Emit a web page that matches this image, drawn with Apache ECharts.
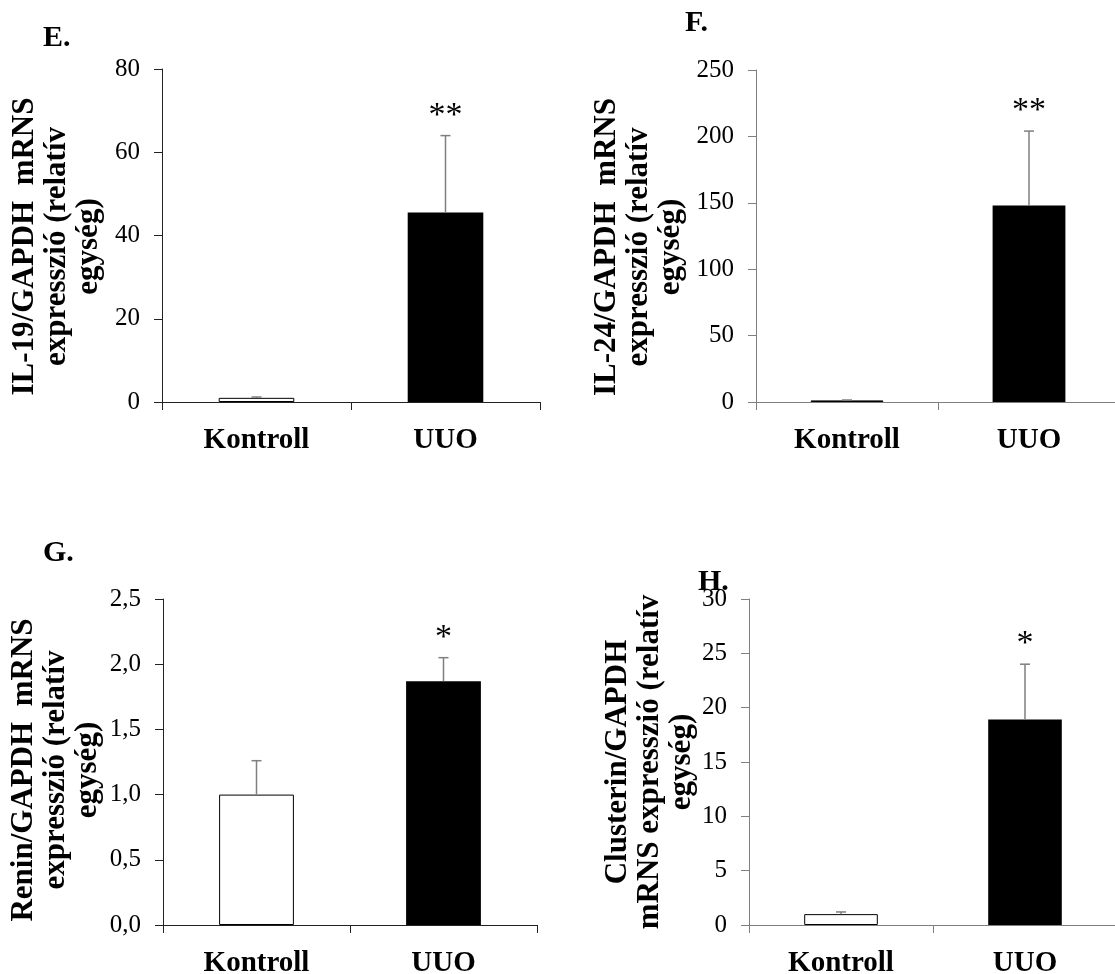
<!DOCTYPE html>
<html>
<head>
<meta charset="utf-8">
<script src="https://cdn.jsdelivr.net/npm/echarts@6/dist/echarts.min.js"></script>
<style>html,body{margin:0;padding:0;background:#fff}#c{width:1115px;height:974px}</style>
</head>
<body>
<div id="c"></div>
<script>
const categories = ['Kontroll', 'UUO'];
// E: IL-19
const eMeans = [1.0, 45.5];
const eErrors = [0.2, 18.5];
const eStars = ['', '**'];
// F: IL-24
const fMeans = [1.2, 148];
const fErrors = [0.3, 56];
const fStars = ['', '**'];
// G: Renin
const gMeans = [1.0, 1.87];
const gErrors = [0.26, 0.18];
const gStars = ['', '*'];
// H: Clusterin
const hMeans = [1.0, 18.9];
const hErrors = [0.2, 5.1];
const hStars = ['', '*'];

const panelLetters = ['E.', 'F.', 'G.', 'H.'];
const yNames = [
  'IL-19/GAPDH  mRNS\nexpresszió (relatív\negység)',
  'IL-24/GAPDH  mRNS\nexpresszió (relatív\negység)',
  'Renin/GAPDH  mRNS\nexpresszió (relatív\negység)',
  'Clusterin/GAPDH\nmRNS expresszió (relatív\negység)'
];
const yMax = [80, 250, 2.5, 30];
const yInterval = [20, 50, 0.5, 5];

const FONT = '"Liberation Serif", "Times New Roman", serif';
const panels = [
  {means: eMeans, errs: eErrors, stars: eStars, axisColor: '#222'},
  {means: fMeans, errs: fErrors, stars: fStars, axisColor: '#7f7f7f'},
  {means: gMeans, errs: gErrors, stars: gStars, axisColor: '#222'},
  {means: hMeans, errs: hErrors, stars: hStars, axisColor: '#7f7f7f'}
];
const grids = [
  {left: 162, top: 69, width: 378, height: 333, outerBoundsMode: 'none', containLabel: false},
  {left: 756, top: 70, width: 364, height: 332, outerBoundsMode: 'none', containLabel: false},
  {left: 163, top: 599, width: 374, height: 326, outerBoundsMode: 'none', containLabel: false},
  {left: 749, top: 599, width: 368, height: 326, outerBoundsMode: 'none', containLabel: false}
];
const nameGaps = [57, 69, 59, 47];
const namePads = [[0, 22, 0, 0], [0, 22, 0, 0], [0, 16, 0, 0], [0, 0, 0, 0]];
const letterPos = [[38, 18], [680, 3], [38, 533], [693, 562]];

const chart = echarts.init(document.getElementById('c'), null, {renderer: 'canvas'});

const xAxes = [], yAxes = [], series = [], titles = [];
panels.forEach((p, i) => {
  xAxes.push({
    type: 'category', gridIndex: i, data: categories,
    axisLine: {lineStyle: {color: p.axisColor, width: 1}},
    axisTick: {show: true, length: 8, alignWithLabel: false, lineStyle: {color: p.axisColor}},
    axisLabel: {color: '#000', fontFamily: FONT, fontWeight: 'bold', fontSize: 29, margin: 24}
  });
  yAxes.push({
    type: 'value', gridIndex: i, min: 0, max: yMax[i], interval: yInterval[i],
    splitLine: {show: false},
    axisLine: {show: true, lineStyle: {color: p.axisColor, width: 1}},
    axisTick: {show: true, length: 8, inside: false, lineStyle: {color: p.axisColor}},
    axisLabel: {
      color: '#000', fontFamily: FONT, fontSize: 25, margin: 22,
      formatter: i === 2 ? (v => v.toFixed(1).replace('.', ',')) : (v => String(v))
    },
    name: yNames[i], nameLocation: 'middle', nameRotate: 90, nameGap: nameGaps[i],
    nameTextStyle: {color: '#000', fontFamily: FONT, fontWeight: 'bold', fontSize: 31, lineHeight: 32,
      align: 'center', padding: namePads[i]}
  });
  series.push({
    type: 'bar', xAxisIndex: i, yAxisIndex: i, barWidth: '40%',
    data: p.means.map((v, k) => ({
      value: v,
      itemStyle: k === 0 ? {color: '#fff', borderColor: '#000', borderWidth: 1} : {color: '#000'}
    }))
  });
  series.push({
    type: 'custom', xAxisIndex: i, yAxisIndex: i, z: 5,
    data: p.means.map((v, k) => [k, v, p.errs[k]]),
    renderItem: (params, api) => {
      const x = api.value(0), m = api.value(1), e = api.value(2);
      const p0 = api.coord([x, m]);
      const p1 = api.coord([x, m + e]);
      const st = {stroke: '#7f7f7f', lineWidth: 1.5};
      const children = [
        {type: 'line', shape: {x1: p0[0], y1: p0[1], x2: p1[0], y2: p1[1]}, style: st},
        {type: 'line', shape: {x1: p1[0] - 5, y1: p1[1], x2: p1[0] + 5, y2: p1[1]}, style: st}
      ];
      const s = p.stars[params.dataIndex];
      if (s) {
        children.push({type: 'text', x: p1[0], y: p1[1] - 3,
          style: {text: s, fontFamily: FONT, fontSize: 34, fill: '#000', align: 'center', verticalAlign: 'bottom'}});
      }
      return {type: 'group', children};
    }
  });
  titles.push({
    text: panelLetters[i], left: letterPos[i][0], top: letterPos[i][1],
    textStyle: {fontFamily: FONT, fontWeight: 'bold', fontSize: 30, color: '#000'}
  });
});

chart.setOption({
  animation: false,
  backgroundColor: '#fff',
  title: titles,
  grid: grids,
  xAxis: xAxes,
  yAxis: yAxes,
  series: series
});
</script>
</body>
</html>
